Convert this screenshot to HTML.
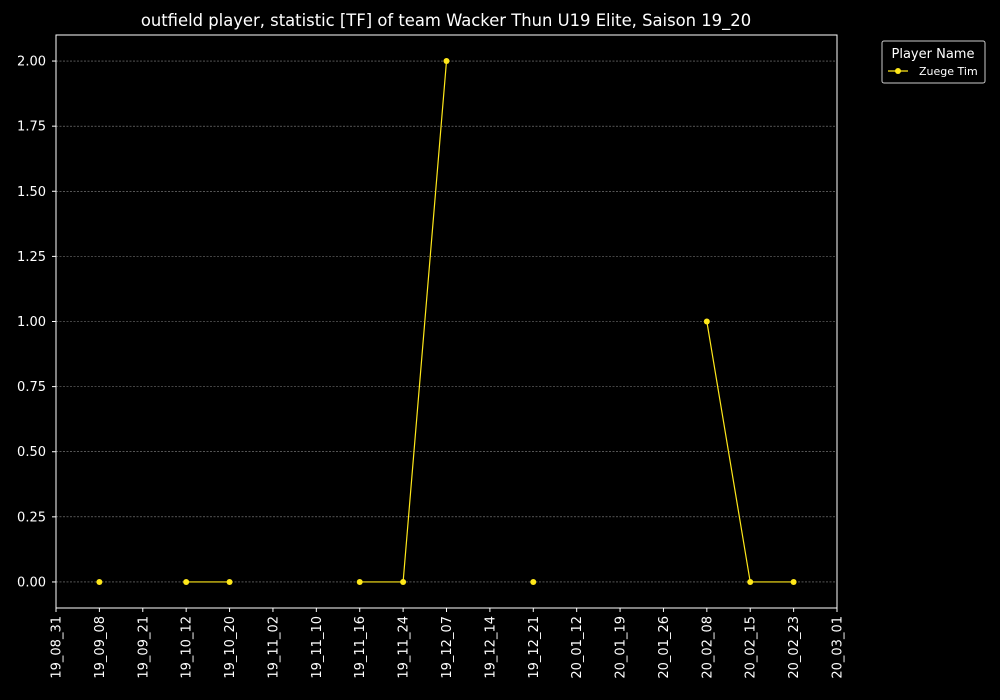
<!DOCTYPE html>
<html><head><meta charset="utf-8"><style>
body{margin:0;background:#000;}
svg{display:block;font-family:"DejaVu Sans","Liberation Sans",sans-serif;}
</style></head><body>
<svg id="chart" width="1000" height="700">
<rect width="1000" height="700" fill="#000"/>
<text x="446" y="26" fill="#fff" font-size="16.4" text-anchor="middle">outfield player, statistic [TF] of team Wacker Thun U19 Elite, Saison 19_20</text>
<g id="grid"></g><g id="xaxis"></g><g id="yaxis"></g><g id="series"></g>
<rect x="56" y="35" width="781" height="573" fill="none" stroke="#fff" stroke-width="1"/>
<g>
<rect x="882" y="41" width="103" height="42" rx="2" fill="#000" stroke="#ccc"/>
<text x="933" y="58" fill="#fff" font-size="13" text-anchor="middle">Player Name</text>
<g>
<line x1="888" y1="71" x2="908" y2="71" stroke="#ffe81a" stroke-width="1.2"/>
<circle cx="898" cy="71" r="3" fill="#ffe81a"/>
<text x="919" y="75" fill="#fff" font-size="11">Zuege Tim</text></g>
</g>
</svg>
<script>
const categories=["19_08_31","19_09_08","19_09_21","19_10_12","19_10_20","19_11_02","19_11_10","19_11_16","19_11_24","19_12_07","19_12_14","19_12_21","20_01_12","20_01_19","20_01_26","20_02_08","20_02_15","20_02_23","20_03_01"];
const values=[null,0,null,0,0,null,null,0,0,2,null,0,null,null,null,1,0,0,null];
const yTicks=[0,0.25,0.5,0.75,1,1.25,1.5,1.75,2];
const yTickLabels=["0.00","0.25","0.50","0.75","1.00","1.25","1.50","1.75","2.00"];
const NS="http://www.w3.org/2000/svg";
const L=56,R=837,T=35,B=608,yMin=-0.1,yMax=2.1;
const x=i=>L+i*(R-L)/(categories.length-1);
const y=v=>B-(v-yMin)/(yMax-yMin)*(B-T);
function mk(tag,attrs,parent){const e=document.createElementNS(NS,tag);for(const k in attrs)e.setAttribute(k,attrs[k]);parent.appendChild(e);return e;}
const grid=document.getElementById('grid'),xa=document.getElementById('xaxis'),ya=document.getElementById('yaxis'),se=document.getElementById('series');
yTicks.forEach((v,i)=>{
 const g=mk('line',{x1:L,x2:R,y1:y(v),y2:y(v),stroke:'#888','stroke-width':0.6,'stroke-dasharray':'2,1.5'},grid);
 
 
 mk('line',{x1:L-4,x2:L,y1:y(v),y2:y(v),stroke:'#fff'},ya);
 const t=mk('text',{x:L-10,y:y(v)+4.5,fill:'#fff','font-size':13,'text-anchor':'end'},ya);
 t.textContent=yTickLabels[i];
 
 
});
categories.forEach((c,i)=>{
 mk('line',{x1:x(i),x2:x(i),y1:B,y2:B+4,stroke:'#fff'},xa);
 const t=mk('text',{x:0,y:0,fill:'#fff','font-size':13,'text-anchor':'end',transform:`translate(${x(i)+4.5},${B+8}) rotate(-90)`},xa);
 t.textContent=c;
 
 
});
let seg=[];
function flush(){if(seg.length>1){const p=mk('polyline',{points:seg.map(q=>q.join(',')).join(' '),fill:'none',stroke:'#ffe81a','stroke-width':1.2},se);
 
 }seg=[];}
values.forEach((v,i)=>{if(v===null){flush();return;}seg.push([x(i),y(v)]);});flush();
values.forEach((v,i)=>{if(v===null)return;
 const c=mk('circle',{cx:x(i),cy:y(v),r:3,fill:'#ffe81a'},se);
 
 
});
</script>
</body></html>
